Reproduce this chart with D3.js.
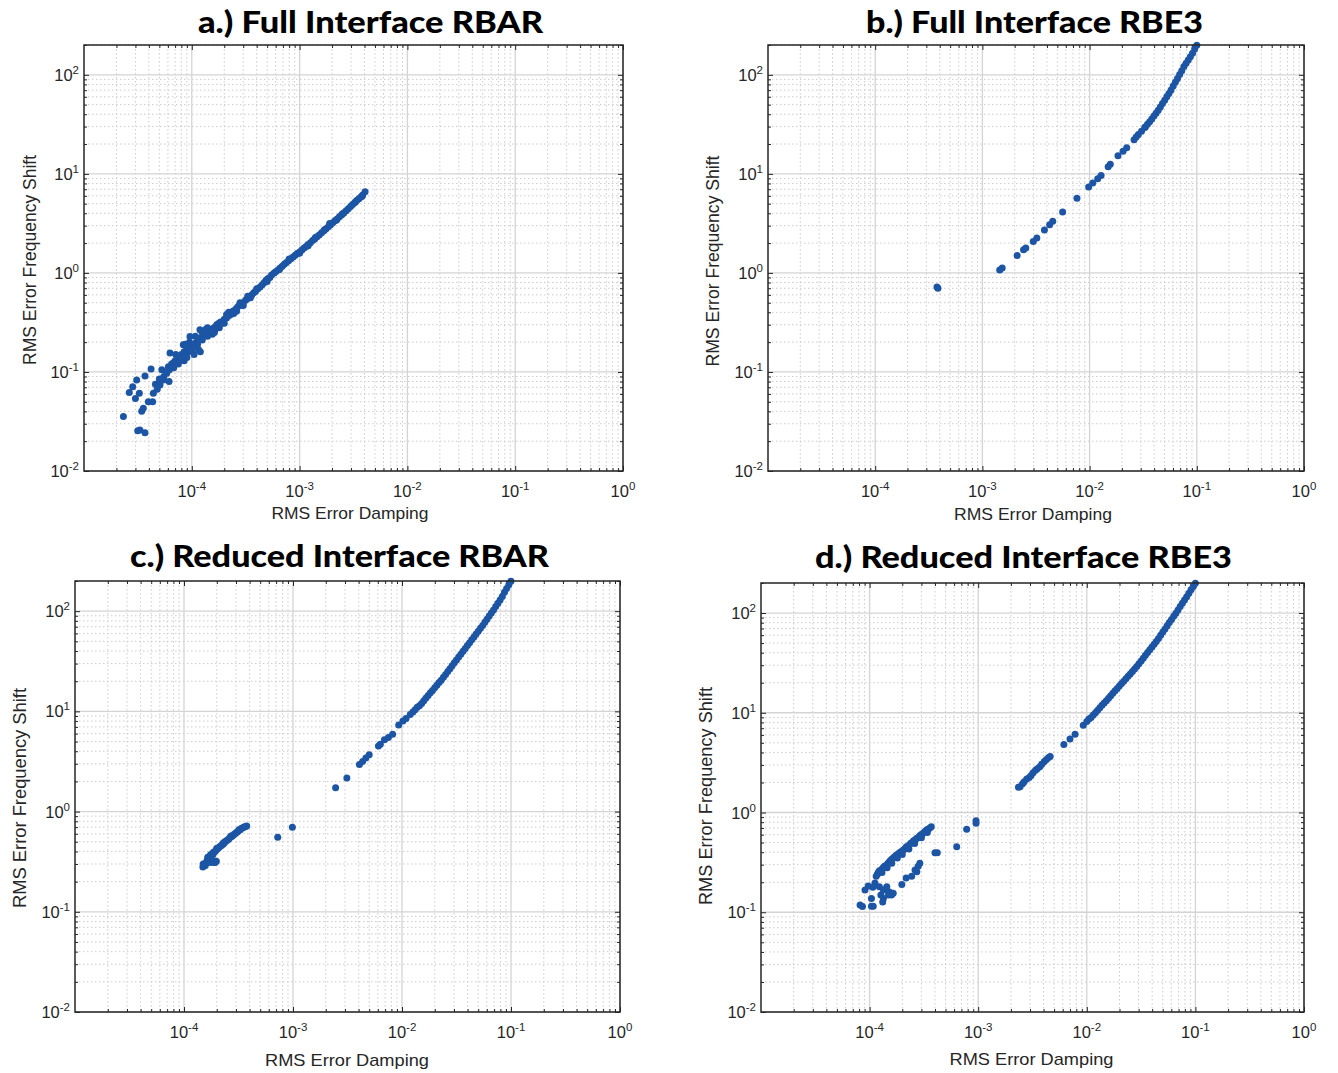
<!DOCTYPE html>
<html><head><meta charset="utf-8">
<script src="https://cdn.jsdelivr.net/npm/d3@7"></script>
<style>body{margin:0;background:#fff}svg{display:block}</style>
</head><body>
<svg id="chart" width="1338" height="1073"></svg>
<script>
const titles = ["a.) Full Interface RBAR", "b.) Full Interface RBE3", "c.) Reduced Interface RBAR", "d.) Reduced Interface RBE3"];
const xLabel = "RMS Error Damping";
const yLabel = "RMS Error Frequency Shift";
const xDomain = [1e-5, 1];
const yDomain = [1e-2, 200];
const xTickExps = [-4, -3, -2, -1, 0];
const yTickExps = [-2, -1, 0, 1, 2];

const dataA = [
[2.32e-5,0.0354],[3.15e-5,0.0255],[3.3e-5,0.026],[3.68e-5,0.0244],
[2.63e-5,0.062],[2.83e-5,0.071],[3.08e-5,0.083],[3.68e-5,0.091],[4.19e-5,0.107],
[3.0e-5,0.054],[3.26e-5,0.061],[3.43e-5,0.040],[3.55e-5,0.043],[3.95e-5,0.050],
[4.33e-5,0.050],[4.4e-5,0.061],[4.78e-5,0.067],[5.07e-5,0.074],[5.44e-5,0.083],
[5.27e-5,0.105],[5.85e-5,0.097],[6.15e-5,0.080],[6.06e-5,0.113],[6.28e-5,0.155],
[6.73e-5,0.123],[7.78e-5,0.143],[9.62e-5,0.228],[8.34e-5,0.188],[1.19e-4,0.267],
[4.6e-5,0.075],[5.0e-5,0.085],[5.5e-5,0.09],[5.8e-5,0.1],[6.2e-5,0.105],[6.5e-5,0.12],[6.8e-5,0.11],[7.0e-5,0.13],
[7.3e-5,0.125],[7.5e-5,0.14],[7.8e-5,0.13],[8.0e-5,0.15],[8.2e-5,0.14],[8.5e-5,0.16],[8.8e-5,0.15],[9.0e-5,0.17],
[9.3e-5,0.16],[9.6e-5,0.18],[1.0e-4,0.17],[1.03e-4,0.19],[1.06e-4,0.18],[1.1e-4,0.2],[1.13e-4,0.19],[1.17e-4,0.21],
[1.2e-4,0.22],[1.25e-4,0.21],[1.3e-4,0.23],[1.35e-4,0.24],[1.4e-4,0.23],[1.45e-4,0.26],[1.5e-4,0.25],[1.55e-4,0.27],
[1.6e-4,0.28],[1.65e-4,0.27],[1.7e-4,0.3],[1.78e-4,0.31],[1.85e-4,0.32],[1.9e-4,0.31],[2.0e-4,0.34],[2.1e-4,0.35],
[2.2e-4,0.37],[2.3e-4,0.38],[2.4e-4,0.41],[2.5e-4,0.42],[2.6e-4,0.44],[2.7e-4,0.46],[2.8e-4,0.47],[2.9e-4,0.49],
[3.0e-4,0.5],[3.15e-4,0.53],[3.3e-4,0.55],[3.45e-4,0.58],[3.6e-4,0.6],[3.75e-4,0.63],[3.9e-4,0.65],[4.1e-4,0.69],
[4.3e-4,0.72],[4.5e-4,0.76],[4.7e-4,0.8],[4.9e-4,0.85],[5.1e-4,0.88],[5.3e-4,0.9],[5.5e-4,0.95],[5.8e-4,1.0],
[6.0e-4,1.03],[6.3e-4,1.07],[6.6e-4,1.12],[6.9e-4,1.17],[7.2e-4,1.22],[7.5e-4,1.27],[7.9e-4,1.33],[8.3e-4,1.39],
[8.7e-4,1.45],[9.1e-4,1.51],[9.5e-4,1.57],[1.0e-3,1.63],[1.05e-3,1.7],[1.1e-3,1.78],[1.15e-3,1.85],[1.2e-3,1.93],
[1.26e-3,2.02],[1.32e-3,2.12],[1.38e-3,2.2],[1.45e-3,2.32],[1.52e-3,2.42],[1.6e-3,2.55],[1.68e-3,2.66],[1.76e-3,2.79],
[1.85e-3,2.92],[1.94e-3,3.06],[2.03e-3,3.2],[2.13e-3,3.36],[2.23e-3,3.5],[2.34e-3,3.68],[2.45e-3,3.85],[2.57e-3,4.03],
[2.7e-3,4.25],[2.83e-3,4.45],[2.97e-3,4.68],[3.1e-3,4.9],[3.25e-3,5.15],[3.4e-3,5.4],[3.55e-3,5.6],[3.7e-3,5.85],
[3.85e-3,6.1],[4.05e-3,6.6],
[9.5e-5,0.2],[1.05e-4,0.15],[1.15e-4,0.17],[1.25e-4,0.25],[1.4e-4,0.28],[1.55e-4,0.24],[1.2e-4,0.16],[8.5e-5,0.13],
[7.5e-5,0.12],[9.0e-5,0.14],[2.0e-4,0.31],[2.2e-4,0.4],[1.8e-4,0.28],[3.0e-4,0.47],[2.6e-4,0.41],[1.08e-4,0.23],
[3.5e-4,0.56],[4.0e-4,0.69],[6.5e-4,1.08],[8.0e-4,1.38],[1.2e-3,1.88],[1.7e-3,2.72],[2.5e-3,3.95],[3.3e-3,5.2],
[3.8e-3,5.95],[1.35e-4,0.27],[1.62e-4,0.25],[7.1e-5,0.15],[8.7e-5,0.19],
[2.1e-4,0.38],[2.45e-4,0.39],[2.8e-4,0.5],[3.3e-4,0.58],[5.0e-4,0.82],[1.0e-3,1.58],[1.4e-3,2.28],[2.2e-3,3.42],[1.9e-3,3.15]
];

const dataB = [
[3.77e-4,0.72],[3.85e-4,0.70],[1.45e-3,1.07],[1.53e-3,1.12],[2.11e-3,1.5],[2.42e-3,1.71],[2.54e-3,1.78],
[2.98e-3,2.08],[3.22e-3,2.25],[3.79e-3,2.71],[4.24e-3,3.07],[4.53e-3,3.33],[5.6e-3,4.13],[7.62e-3,5.68],
[9.8e-3,7.35],[1.07e-2,8.1],[1.19e-2,8.9],[1.28e-2,9.6],[1.49e-2,11.8],[1.56e-2,12.5],[1.84e-2,15.2],
[2.05e-2,16.9],[2.22e-2,18.3],[2.6e-2,22.1],[2.72e-2,23.5],[2.85e-2,25],[3.05e-2,27],[3.27e-2,29.3],
[0.03311,29.8],[0.03467,31.6],[0.03631,33.5],[0.03802,35.8],[0.03981,38.3],[0.04169,40.9],[0.04365,43.9],
[0.04571,47.4],[0.04786,51.3],[0.05012,55.5],[0.05248,60.0],[0.05495,64.9],[0.05754,70.3],[0.06026,76.9],
[0.0631,84.1],[0.06607,92.0],[0.06918,101],[0.07244,110],[0.07586,121],[0.07943,131],[0.08318,141],
[0.0871,152],[0.0912,165],[0.0955,182],[0.1,199]
];

const dataC = [
[1.49e-4,0.28],[1.52e-4,0.29],[1.5e-4,0.3],[1.55e-4,0.3],[1.57e-4,0.29],[1.6e-4,0.31],[1.62e-4,0.32],[1.65e-4,0.33],
[1.68e-4,0.33],[1.7e-4,0.34],[1.73e-4,0.35],[1.76e-4,0.35],[1.8e-4,0.37],[1.84e-4,0.37],[1.88e-4,0.39],[1.92e-4,0.4],
[1.96e-4,0.41],[2.0e-4,0.42],[2.05e-4,0.43],[2.1e-4,0.44],[2.15e-4,0.45],[2.2e-4,0.46],[2.26e-4,0.47],[2.32e-4,0.48],
[2.38e-4,0.5],[2.44e-4,0.51],[2.5e-4,0.52],[2.57e-4,0.53],[2.64e-4,0.55],[2.71e-4,0.56],[2.78e-4,0.57],[2.86e-4,0.59],
[2.94e-4,0.6],[3.02e-4,0.62],[3.1e-4,0.63],[3.19e-4,0.65],[3.28e-4,0.66],[3.37e-4,0.68],[3.47e-4,0.69],[3.57e-4,0.7],
[3.67e-4,0.71],[3.76e-4,0.72],
[1.88e-4,0.31],[1.93e-4,0.31],[1.98e-4,0.32],[1.8e-4,0.33],[1.7e-4,0.32],[1.75e-4,0.31],
[1.65e-4,0.35],[1.75e-4,0.37],[1.85e-4,0.39],[2.0e-4,0.43],[2.3e-4,0.49],[2.7e-4,0.57],[3.2e-4,0.66],
[7.24e-4,0.555],[9.87e-4,0.697],
[2.46e-3,1.73],[3.12e-3,2.16],[4.07e-3,2.95],[4.35e-3,3.16],[4.66e-3,3.42],[5.0e-3,3.7],[6.08e-3,4.52],
[6.33e-3,4.7],[6.9e-3,5.2],[7.5e-3,5.5],[8.2e-3,5.9],[9.33e-3,7.3],[1.02e-2,8.0],[1.09e-2,8.5],[1.19e-2,9.3],
[0.01259,9.84],[0.01318,10.4],[0.0138,11.0],[0.01445,11.4],[0.01514,12.0],[0.01585,12.8],[0.0166,13.6],
[0.01738,14.4],[0.0182,15.3],[0.01905,16.2],[0.01995,17.2],[0.02089,18.2],[0.02188,19.4],[0.02291,20.5],
[0.02399,21.9],[0.02512,23.4],[0.0263,25.0],[0.02754,26.7],[0.02884,28.5],[0.0302,30.5],[0.03162,32.6],
[0.03311,34.8],[0.03467,37.2],[0.03631,39.7],[0.03802,42.5],[0.03981,45.4],[0.04169,48.5],[0.04365,51.8],
[0.04571,55.3],[0.04786,59.2],[0.05012,63.2],[0.05248,67.6],[0.05495,72.1],[0.05754,77.3],[0.06026,83.2],
[0.0631,89.3],[0.06607,96.1],[0.06918,103],[0.07244,111],[0.07586,120],[0.07943,129],[0.08318,140],
[0.0871,154],[0.0912,168],[0.0955,183],[0.1,199]
];

const dataD = [
[8.17e-5,0.118],[8.6e-5,0.114],[1.04e-4,0.115],[1.08e-4,0.115],[1.32e-4,0.127],[1.04e-4,0.137],
[9.07e-5,0.167],[9.7e-5,0.183],[1.07e-4,0.178],[1.12e-4,0.197],[1.23e-4,0.18],[1.34e-4,0.167],
[1.44e-4,0.18],[1.52e-4,0.16],[1.49e-4,0.149],[1.59e-4,0.149],[1.65e-4,0.155],[1.34e-4,0.137],[1.27e-4,0.149],
[1.98e-4,0.19],[2.17e-4,0.22],[2.44e-4,0.23],[2.62e-4,0.265],[2.8e-4,0.29],[2.9e-4,0.31],[2.72e-4,0.255],
[1.15e-4,0.23],[1.18e-4,0.24],[1.2e-4,0.25],[1.23e-4,0.26],[1.26e-4,0.26],[1.3e-4,0.27],[1.33e-4,0.28],
[1.37e-4,0.29],[1.4e-4,0.29],[1.44e-4,0.3],[1.48e-4,0.31],[1.52e-4,0.32],[1.56e-4,0.33],[1.6e-4,0.34],
[1.65e-4,0.35],[1.7e-4,0.36],[1.75e-4,0.37],[1.8e-4,0.38],[1.86e-4,0.39],[1.92e-4,0.4],[1.98e-4,0.41],
[2.04e-4,0.42],[2.1e-4,0.43],[2.17e-4,0.45],[2.24e-4,0.46],[2.31e-4,0.47],[2.38e-4,0.49],[2.46e-4,0.5],
[2.54e-4,0.52],[2.62e-4,0.53],[2.7e-4,0.55],[2.79e-4,0.56],[2.88e-4,0.58],[2.97e-4,0.6],[3.06e-4,0.61],
[3.16e-4,0.63],[3.26e-4,0.65],[3.36e-4,0.67],[3.47e-4,0.68],[3.58e-4,0.7],[3.7e-4,0.72],
[1.3e-4,0.25],[1.45e-4,0.28],[1.6e-4,0.31],[1.8e-4,0.35],[2.0e-4,0.38],[2.3e-4,0.43],[2.6e-4,0.49],[3.0e-4,0.56],[3.4e-4,0.63],
[4.0e-4,0.394],[4.2e-4,0.394],[6.34e-4,0.453],[7.83e-4,0.678],[9.55e-4,0.826],[9.55e-4,0.78],
[2.35e-3,1.79],[2.43e-3,1.81],[2.56e-3,1.94],[2.65e-3,2.03],[2.8e-3,2.17],[2.95e-3,2.25],[3.07e-3,2.35],
[3.2e-3,2.5],[3.37e-3,2.65],[3.5e-3,2.75],[3.69e-3,2.87],[3.85e-3,3.05],[4.06e-3,3.24],[4.25e-3,3.4],
[4.45e-3,3.57],[4.6e-3,3.65],[6.15e-3,4.82],[7.0e-3,5.45],[7.8e-3,6.1],[9.28e-3,7.48],
[0.01,8.18],[0.01047,8.65],[0.01096,8.97],[0.01148,9.48],[0.01202,10.0],[0.01259,10.6],[0.01318,11.2],
[0.0138,11.9],[0.01445,12.5],[0.01514,13.2],[0.01585,14.0],[0.0166,14.8],[0.01738,15.7],[0.0182,16.6],
[0.01905,17.5],[0.01995,18.5],[0.02089,19.6],[0.02188,20.7],[0.02291,21.9],[0.02399,23.2],[0.02512,24.5],
[0.0263,25.9],[0.02754,27.4],[0.02884,29.1],[0.0302,31.0],[0.03162,33.1],[0.03311,35.3],[0.03467,37.7],
[0.03631,40.2],[0.03802,42.9],[0.03981,45.6],[0.04169,48.6],[0.04365,51.9],[0.04571,55.7],[0.04786,59.8],
[0.05012,64.4],[0.05248,69.2],[0.05495,74.5],[0.05754,80.2],[0.06026,86.1],[0.0631,92.7],[0.06607,99.5],
[0.06918,107],[0.07244,116],[0.07586,125],[0.07943,135],[0.08318,146],[0.0871,158],[0.0912,171],
[0.0955,185],[0.1,199]
];

// layout (pixel positions) for each panel
const panels = [
  {data: dataA, title: titles[0], L: 84, R: 623, T: 45, B: 471, tX1: 198, tX2: 543, tY: 33,
   xlX: 350, xlY: 519, xlW: 157, ylX: 36, ylY: 260, ylW: 210},
  {data: dataB, title: titles[1], L: 768, R: 1304, T: 45, B: 471, tX1: 866, tX2: 1203, tY: 33,
   xlX: 1033, xlY: 520, xlW: 158, ylX: 719, ylY: 261, ylW: 211},
  {data: dataC, title: titles[2], L: 75, R: 620, T: 581, B: 1012, tX1: 130, tX2: 549, tY: 567,
   xlX: 347, xlY: 1066, xlW: 164, ylX: 25.5, ylY: 798, ylW: 220},
  {data: dataD, title: titles[3], L: 761, R: 1304, T: 583, B: 1012, tX1: 815, tX2: 1232, tY: 568,
   xlX: 1031.5, xlY: 1065, xlW: 164, ylX: 712, ylY: 796, ylW: 218}
];

const markerColor = "#1d55a5";
const axisColor = "#262626";
const labelFont = "'Liberation Sans', Arial, Helvetica, sans-serif";

const svg = d3.select("#chart");

panels.forEach(p => {
  const x = d3.scaleLog().domain(xDomain).range([p.L, p.R]);
  const y = d3.scaleLog().domain(yDomain).range([p.B, p.T]);
  const isMajor = v => Math.abs(Math.log10(v) - Math.round(Math.log10(v))) < 1e-9;
  const xAll = x.ticks();
  const yAll = y.ticks();
  const xMinor = xAll.filter(v => !isMajor(v));
  const yMinor = yAll.filter(v => !isMajor(v));
  const xMajor = xTickExps.map(e => Math.pow(10, e));
  const yMajor = yTickExps.map(e => Math.pow(10, e));

  const g = svg.append("g");

  // minor grid (dotted)
  g.append("g").selectAll("line").data(xMinor).join("line")
    .attr("x1", d => x(d)).attr("x2", d => x(d)).attr("y1", p.T).attr("y2", p.B)
    .attr("stroke", "#cccccc").attr("stroke-width", 1).attr("stroke-dasharray", "1.5,2.5");
  g.append("g").selectAll("line").data(yMinor).join("line")
    .attr("y1", d => y(d)).attr("y2", d => y(d)).attr("x1", p.L).attr("x2", p.R)
    .attr("stroke", "#cccccc").attr("stroke-width", 1).attr("stroke-dasharray", "1.5,2.5");
  // major grid
  g.append("g").selectAll("line").data(xMajor).join("line")
    .attr("x1", d => x(d)).attr("x2", d => x(d)).attr("y1", p.T).attr("y2", p.B)
    .attr("stroke", "#d4d4d4").attr("stroke-width", 1.3);
  g.append("g").selectAll("line").data(yMajor).join("line")
    .attr("y1", d => y(d)).attr("y2", d => y(d)).attr("x1", p.L).attr("x2", p.R)
    .attr("stroke", "#d4d4d4").attr("stroke-width", 1.3);

  // ticks inward on all sides
  const addAxis = (axis, tx, ty) => {
    const a = g.append("g").attr("transform", `translate(${tx},${ty})`).call(axis);
    a.select(".domain").remove();
    a.selectAll("text").remove();
    a.selectAll("line").attr("stroke", axisColor).attr("stroke-width", 1);
  };
  addAxis(d3.axisBottom(x).tickValues(xMinor).tickSize(-3), 0, p.B);
  addAxis(d3.axisBottom(x).tickValues(xMajor).tickSize(-5), 0, p.B);
  addAxis(d3.axisTop(x).tickValues(xMinor).tickSize(-3), 0, p.T);
  addAxis(d3.axisTop(x).tickValues(xMajor).tickSize(-5), 0, p.T);
  addAxis(d3.axisLeft(y).tickValues(yMinor).tickSize(-3), p.L, 0);
  addAxis(d3.axisLeft(y).tickValues(yMajor).tickSize(-5), p.L, 0);
  addAxis(d3.axisRight(y).tickValues(yMinor).tickSize(-3), p.R, 0);
  addAxis(d3.axisRight(y).tickValues(yMajor).tickSize(-5), p.R, 0);

  // data
  g.append("g").selectAll("circle").data(p.data).join("circle")
    .attr("cx", d => x(d[0])).attr("cy", d => y(d[1]))
    .attr("r", 3.5).attr("fill", markerColor);

  // box
  g.append("rect").attr("x", p.L).attr("y", p.T).attr("width", p.R - p.L).attr("height", p.B - p.T)
    .attr("fill", "none").attr("stroke", axisColor).attr("stroke-width", 1.5);

  // x tick labels
  const xt = g.append("g").selectAll("text").data(xTickExps).join("text")
    .attr("x", d => x(Math.pow(10, d))).attr("y", p.B + 26)
    .attr("text-anchor", "middle").attr("font-family", labelFont)
    .attr("font-size", 16.5).attr("fill", axisColor);
  xt.append("tspan").text("10");
  xt.append("tspan").attr("dy", -7).attr("font-size", 11.5).text(d => String(d));

  // y tick labels
  const yt = g.append("g").selectAll("text").data(yTickExps).join("text")
    .attr("x", p.L - 5).attr("y", d => y(Math.pow(10, d)) + 6)
    .attr("text-anchor", "end").attr("font-family", labelFont)
    .attr("font-size", 16.5).attr("fill", axisColor);
  yt.append("tspan").text("10");
  yt.append("tspan").attr("dy", -7).attr("font-size", 11.5).text(d => String(d));

  // axis titles
  g.append("text").attr("x", p.xlX).attr("y", p.xlY).attr("text-anchor", "middle")
    .attr("font-family", labelFont).attr("font-size", 17).attr("fill", axisColor)
    .attr("textLength", p.xlW).attr("lengthAdjust", "spacingAndGlyphs").text(xLabel);
  g.append("text").attr("transform", `translate(${p.ylX},${p.ylY}) rotate(-90)`)
    .attr("text-anchor", "middle")
    .attr("font-family", labelFont).attr("font-size", 18).attr("fill", axisColor)
    .attr("textLength", p.ylW).attr("lengthAdjust", "spacingAndGlyphs").text(yLabel);

  // title
  g.append("text").attr("x", p.tX1).attr("y", p.tY)
    .attr("font-family", "Lato, 'Open Sans', sans-serif").attr("font-weight", 900)
    .attr("font-size", 31).attr("fill", "#000")
    .attr("textLength", p.tX2 - p.tX1).attr("lengthAdjust", "spacingAndGlyphs").text(p.title);
});
</script>
</body></html>
